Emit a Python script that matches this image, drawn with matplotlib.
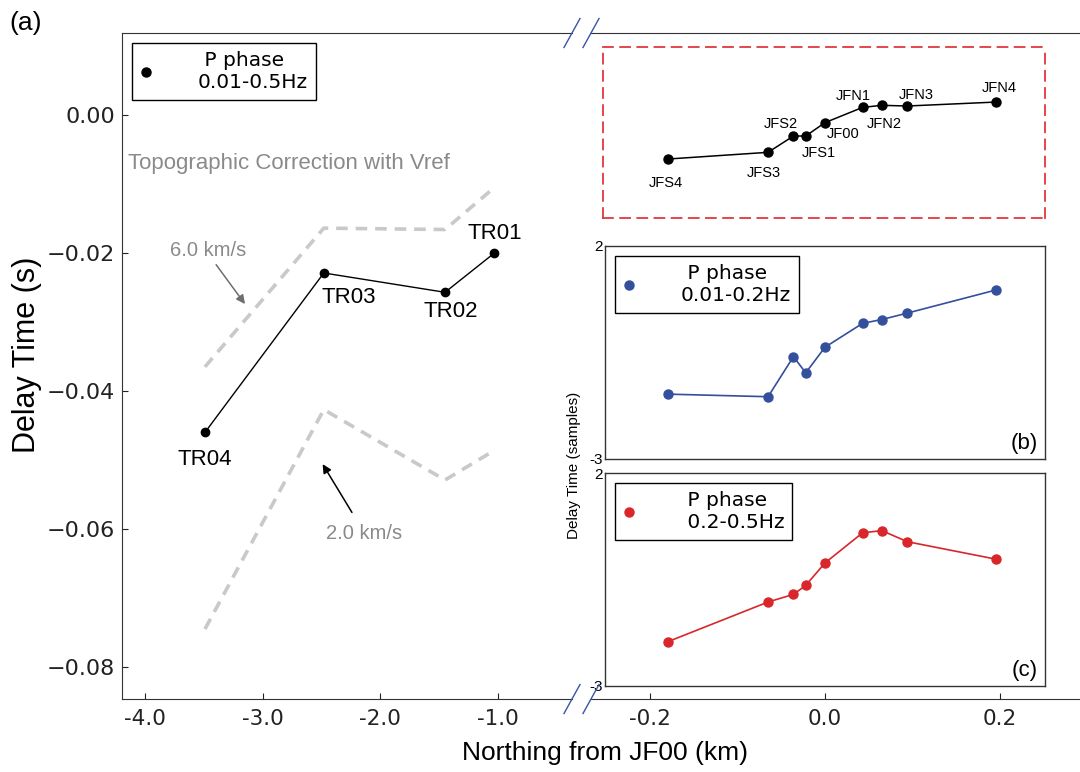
import matplotlib
matplotlib.use("Agg")
import matplotlib.pyplot as plt
from matplotlib.lines import Line2D
from matplotlib.ticker import FuncFormatter, FormatStrFormatter

# ---- panel (a): long-offset stations ----
tr_names = ['TR04', 'TR03', 'TR02', 'TR01']
tr_north = [-3.49, -2.48, -1.45, -1.03]
tr_delay = [-0.0460, -0.0229, -0.0257, -0.0200]
topo_6kms = [-0.0365, -0.0164, -0.0166, -0.0105]
topo_2kms = [-0.0745, -0.0427, -0.0529, -0.0486]

# ---- JF array (map inset, panels b and c) ----
jf_names = ['JFS4', 'JFS3', 'JFS2', 'JFS1', 'JF00', 'JFN1', 'JFN2', 'JFN3', 'JFN4']
jf_north = [-0.179, -0.065, -0.036, -0.022, 0.0, 0.043, 0.065, 0.094, 0.195]
jf_map_y = [0.344, 0.383, 0.478, 0.478, 0.556, 0.645, 0.657, 0.653, 0.676]
delay_low = [-1.48, -1.54, -0.60, -0.98, -0.38, 0.18, 0.27, 0.42, 0.96]
delay_high = [-1.96, -1.03, -0.85, -0.64, -0.11, 0.60, 0.65, 0.39, -0.02]

# label offsets (points) for the station names in the map inset
jf_label_off = [(-2, -17.5), (-3, -15), (-9, 8.6), (9.5, -12.5), (13, -8),
                (-7, 8.4), (2, -13.5), (6.8, 8), (2.7, 10)]

W, H = 1080, 772
SANS = 'Liberation Sans'
BLUE = '#34509c'
RED = '#d9262b'
GREY_TXT = '#8a8a8a'
GREY_LINE = '#c9c9c9'
SPINE = '#333333'


def fx(px):
    return px / W


def fy(py):
    return 1 - py / H


def box(x0, y0, x1, y1):
    return [fx(x0), fy(y1), (x1 - x0) / W, (y1 - y0) / H]


def add_legend(ax, color, label, x0, y0):
    h = Line2D([], [], ls='none', marker='o', ms=6.5, color=color, mec=color)
    leg = ax.legend([h], [label], loc='upper left',
                    bbox_to_anchor=(fx(x0), fy(y0)), bbox_transform=fig.transFigure,
                    borderaxespad=0, fontsize=14.5, handlelength=0.6,
                    handletextpad=2.26, borderpad=0.4, fancybox=False,
                    framealpha=1, edgecolor='black', numpoints=1)
    leg.get_frame().set_linewidth(1.0)
    return leg


plt.rcParams['font.family'] = ['DejaVu Sans']
fig = plt.figure(figsize=(W / 100, H / 100), dpi=100)

# ---- left part of panel (a) ----
ax_l = fig.add_axes(box(122, 33, 572, 699))
ax_l.set_xlim(-4.195, -0.371)
ax_l.set_ylim(-0.08464, 0.01188)
ax_l.spines['right'].set_visible(False)
for sp in ax_l.spines.values():
    sp.set_color(SPINE)
ax_l.set_xticks([-4.0, -3.0, -2.0, -1.0])
ax_l.set_yticks([0.0, -0.02, -0.04, -0.06, -0.08])
ax_l.xaxis.set_major_formatter(FormatStrFormatter('%.1f'))
ax_l.yaxis.set_major_formatter(FuncFormatter(lambda v, p: f"{v:.2f}".replace('-', '\u2212')))
ax_l.tick_params(direction='in', length=4, width=0.8, top=False, right=False,
                 colors='#222222')
ax_l.tick_params(axis='x', labelsize=15.5, pad=7)
ax_l.tick_params(axis='y', labelsize=16, pad=5)

ax_l.plot(tr_north, topo_6kms, color=GREY_LINE, lw=2.6, dashes=(3.2, 2.2), zorder=1)
ax_l.plot(tr_north, topo_2kms, color=GREY_LINE, lw=2.6, dashes=(3.2, 2.2), zorder=1)
ax_l.plot(tr_north, tr_delay, color='black', lw=1.0, marker='o', ms=6, zorder=3)

tr_label_pos = [(-3.49, -0.0500), (-2.27, -0.0265), (-1.40, -0.0285), (-1.03, -0.0172)]
for name, (tx, ty) in zip(tr_names, tr_label_pos):
    ax_l.text(tx, ty, name, fontsize=16, family=SANS, ha='center', va='center')

ax_l.text(-4.144, -0.0071, 'Topographic Correction with Vref', fontsize=16,
          family=SANS, color=GREY_TXT, ha='left', va='center')
ax_l.text(-3.46, -0.0196, '6.0 km/s', fontsize=14.5, family=SANS, color=GREY_TXT,
          ha='center', va='center')
ax_l.annotate('', xy=(-3.15, -0.0274), xytext=(-3.395, -0.0217),
              arrowprops=dict(arrowstyle='-|>', color='#6e6e6e', lw=1.1,
                              mutation_scale=13, shrinkA=0, shrinkB=0))
ax_l.text(-2.135, -0.0606, '2.0 km/s', fontsize=14.5, family=SANS, color=GREY_TXT,
          ha='center', va='center')
ax_l.annotate('', xy=(-2.49, -0.0506), xytext=(-2.241, -0.0576),
              arrowprops=dict(arrowstyle='-|>', color='black', lw=1.1,
                              mutation_scale=13, shrinkA=0, shrinkB=0))

add_legend(ax_l, 'black', ' P phase\n0.01-0.5Hz', 132, 43)

# ---- right part of panel (a), zoomed x-axis ----
ax_r = fig.add_axes(box(591, 33, 1080, 699))
ax_r.set_xlim(-0.2672, 0.2912)
ax_r.set_ylim(0, 1)
ax_r.spines['left'].set_visible(False)
ax_r.spines['right'].set_visible(False)
for sp in ax_r.spines.values():
    sp.set_color(SPINE)
ax_r.set_xticks([-0.2, 0.0, 0.2])
ax_r.xaxis.set_major_formatter(FormatStrFormatter('%.1f'))
ax_r.set_yticks([])
ax_r.tick_params(axis='x', direction='in', length=4, width=0.8, top=False,
                 labelsize=15.5, pad=7, colors='#222222')

# break marks
for cx in (572, 591):
    for cy in (33, 699):
        fig.add_artist(Line2D([fx(cx - 8), fx(cx + 8)], [fy(cy + 14.5), fy(cy - 14.5)],
                              transform=fig.transFigure, color='#3a55a4', lw=1.0))

# ---- station map inset (red dashed box) ----
ax_map = fig.add_axes(box(603, 46.5, 1045, 218))
ax_map.set_xlim(-0.2535, 0.2513)
ax_map.set_ylim(0, 1)
ax_map.set_xticks([])
ax_map.set_yticks([])
for sp in ax_map.spines.values():
    sp.set_color('#e0383c')
    sp.set_linewidth(1.3)
    sp.set_linestyle((0, (5.5, 4)))
ax_map.plot(jf_north, jf_map_y, color='black', lw=1.1, marker='o', ms=6.5)
for name, xv, yv, off in zip(jf_names, jf_north, jf_map_y, jf_label_off):
    ax_map.annotate(name, (xv, yv), xytext=off, textcoords='offset points',
                    fontsize=10.5, family=SANS, ha='center', va='center')

# ---- panels (b) and (c) ----
panels = [
    (box(605.4, 245.7, 1045, 459), delay_low, BLUE, ' P phase\n0.01-0.2Hz', 256, '(b)'),
    (box(605.4, 473.3, 1045, 685.7), delay_high, RED, ' P phase\n 0.2-0.5Hz', 482.7, '(c)'),
]
for rect, vals, col, lab, leg_y, tag in panels:
    ax = fig.add_axes(rect)
    ax.set_xlim(-0.2508, 0.2513)
    ax.set_ylim(-3, 2)
    ax.set_xticks([])
    ax.set_yticks([-3, 2])
    ax.set_yticklabels(['-3', '2'], family=SANS, fontsize=11)
    ax.tick_params(axis='y', length=0, pad=2)
    for sp in ax.spines.values():
        sp.set_color(SPINE)
        sp.set_linewidth(1.0)
    ax.plot(jf_north, vals, color=col, lw=1.2, marker='o', ms=6.5, mec=col)
    add_legend(ax, col, lab, 615, leg_y)
    ax.text(0.953, 0.072, tag, transform=ax.transAxes, fontsize=16, family=SANS,
            ha='center', va='center')

fig.text(fx(574), fy(465), 'Delay Time (samples)', rotation=90, fontsize=11,
         family=SANS, ha='center', va='center')

# ---- figure labels ----
fig.text(fx(27), fy(355), 'Delay Time (s)', rotation=90, fontsize=22,
         family=SANS, ha='center', va='center')
fig.text(fx(605), fy(753), 'Northing from JF00 (km)', fontsize=19,
         family=SANS, ha='center', va='center')
fig.text(fx(26), fy(23), '(a)', fontsize=19, family=SANS, ha='center', va='center')

fig.savefig('out.png', dpi=100)
